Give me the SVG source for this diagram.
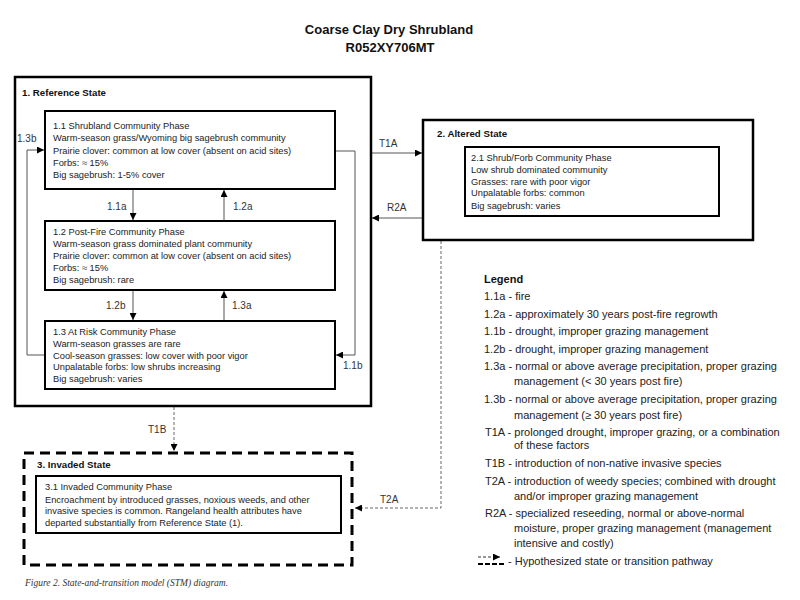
<svg xmlns="http://www.w3.org/2000/svg" width="800" height="600" viewBox="0 0 800 600">
<style>
text{font-family:"Liberation Sans",Arial,sans-serif;fill:#111}
.title{font-size:13px;font-weight:bold;text-anchor:middle}
.state{font-size:9.7px;font-weight:bold}
.body{font-size:9.3px;fill:#222}
.lbl{font-size:10px;fill:#333}
.leg{font-size:11px;fill:#222}
.legh{font-size:11px;font-weight:bold}
.cap{font-family:"Liberation Serif","Times New Roman",serif;font-style:italic;font-size:9.5px;fill:#333}
.sbox{fill:none;stroke:#000;stroke-width:2.5}
.pbox{fill:#fff;stroke:#000;stroke-width:2}
.dbox{fill:none;stroke:#000;stroke-width:3;stroke-dasharray:10,6}
.con{fill:none;stroke:#555;stroke-width:1}
.dash{fill:none;stroke:#666;stroke-width:1;stroke-dasharray:3,2}
</style>
<defs>
<marker id="ah" viewBox="0 0 10 10" refX="10" refY="5" markerWidth="7" markerHeight="7" markerUnits="userSpaceOnUse" orient="auto">
<path d="M0,0 L10,5 L0,10 z" fill="#000"/>
</marker>
</defs>
<rect width="800" height="600" fill="#fff"/>
<g id="title">
<text class="title" x="389" y="34">Coarse Clay Dry Shrubland</text>
<text class="title" x="390" y="52">R052XY706MT</text>
</g>
<g id="connectors">
<line class="con" x1="133" y1="189" x2="133" y2="220" marker-end="url(#ah)"/>
<line class="con" x1="224" y1="221" x2="224" y2="190" marker-end="url(#ah)"/>
<line class="con" x1="133" y1="290" x2="133" y2="320" marker-end="url(#ah)"/>
<line class="con" x1="224" y1="321" x2="224" y2="291" marker-end="url(#ah)"/>
<polyline class="con" points="45,355 27,355 27,150 44,150" marker-end="url(#ah)"/>
<polyline class="con" points="335,151 355,151 355,355 336,355" marker-end="url(#ah)"/>
<line class="con" x1="372" y1="153" x2="422" y2="153" marker-end="url(#ah)"/>
<line class="con" x1="423" y1="218" x2="372" y2="218" marker-end="url(#ah)"/>
<line class="dash" x1="174" y1="407" x2="174" y2="451" marker-end="url(#ah)"/>
<polyline class="dash" points="441,241 441,508 355,508" marker-end="url(#ah)"/>
<text class="lbl" x="107" y="209.5">1.1a</text>
<text class="lbl" x="233" y="209.5">1.2a</text>
<text class="lbl" x="106" y="308.5">1.2b</text>
<text class="lbl" x="232" y="308.5">1.3a</text>
<text class="lbl" x="17" y="141.5">1.3b</text>
<text class="lbl" x="343" y="368.5">1.1b</text>
<text class="lbl" x="379" y="146.5">T1A</text>
<text class="lbl" x="387" y="210.5">R2A</text>
<text class="lbl" x="148" y="432.5">T1B</text>
<text class="lbl" x="380" y="502.5">T2A</text>
</g>
<g id="state1">
<rect class="sbox" x="15" y="77" width="356" height="329"/>
<text class="state" x="22" y="95.5">1. Reference State</text>
</g>
<g id="phase11">
<rect class="pbox" x="45" y="111" width="290" height="78"/>
<text class="body" x="53" y="128.5">1.1 Shrubland Community Phase</text>
<text class="body" x="53" y="141">Warm-season grass/Wyoming big sagebrush community</text>
<text class="body" x="53" y="153.5">Prairie clover: common at low cover (absent on acid sites)</text>
<text class="body" x="53" y="166">Forbs: ≈ 15%</text>
<text class="body" x="53" y="178">Big sagebrush: 1-5% cover</text>
</g>
<g id="phase12">
<rect class="pbox" x="45" y="221" width="290" height="69"/>
<text class="body" x="53" y="234.5">1.2 Post-Fire Community Phase</text>
<text class="body" x="53" y="246.5">Warm-season grass dominated plant community</text>
<text class="body" x="53" y="258.5">Prairie clover: common at low cover (absent on acid sites)</text>
<text class="body" x="53" y="270.5">Forbs: ≈ 15%</text>
<text class="body" x="53" y="282.5">Big sagebrush: rare</text>
</g>
<g id="phase13">
<rect class="pbox" x="45" y="321" width="290" height="68"/>
<text class="body" x="53" y="334.5">1.3 At Risk Community Phase</text>
<text class="body" x="53" y="346.5">Warm-season grasses are rare</text>
<text class="body" x="53" y="358.5">Cool-season grasses: low cover with poor vigor</text>
<text class="body" x="53" y="369.5">Unpalatable forbs: low shrubs increasing</text>
<text class="body" x="53" y="382">Big sagebrush: varies</text>
</g>
<g id="state2">
<rect class="sbox" x="423" y="120" width="330" height="120"/>
<text class="state" x="437" y="136.5">2. Altered State</text>
</g>
<g id="phase21">
<rect class="pbox" x="465" y="147" width="254" height="69"/>
<text class="body" x="471" y="160.5">2.1 Shrub/Forb Community Phase</text>
<text class="body" x="471" y="173">Low shrub dominated community</text>
<text class="body" x="471" y="184.5">Grasses: rare with poor vigor</text>
<text class="body" x="471" y="196">Unpalatable forbs: common</text>
<text class="body" x="471" y="208.5">Big sagebrush: varies</text>
</g>
<g id="state3">
<rect class="dbox" x="24" y="453" width="328" height="112"/>
<text class="state" x="37" y="467.5">3. Invaded  State</text>
</g>
<g id="phase31">
<rect class="pbox" x="36" y="476" width="305" height="57"/>
<text class="body" x="45" y="489.5">3.1 Invaded Community Phase</text>
<text class="body" x="45" y="502.5">Encroachment by introduced grasses, noxious weeds, and other</text>
<text class="body" x="45" y="513.5">invasive species is common. Rangeland health attributes have</text>
<text class="body" x="45" y="525.5">departed substantially from Reference State (1).</text>
</g>
<g id="legend">
<text class="legh" x="484" y="283">Legend</text>
<text class="leg" x="484" y="300">1.1a - fire</text>
<text class="leg" x="484" y="317.5">1.2a - approximately 30 years post-fire regrowth</text>
<text class="leg" x="484" y="335">1.1b - drought, improper grazing management</text>
<text class="leg" x="484" y="353">1.2b - drought, improper grazing management</text>
<text class="leg" x="484" y="370">1.3a - normal or above average precipitation, proper grazing</text>
<text class="leg" x="514" y="385">management (&lt; 30 years post fire)</text>
<text class="leg" x="484" y="403">1.3b - normal or above average precipitation, proper grazing</text>
<text class="leg" x="514" y="418.5">management (≥ 30 years post fire)</text>
<text class="leg" x="485" y="436">T1A - prolonged drought, improper grazing, or a combination</text>
<text class="leg" x="514" y="449">of these factors</text>
<text class="leg" x="485" y="467">T1B - introduction of non-native invasive species</text>
<text class="leg" x="485" y="485">T2A - introduction of weedy species; combined with drought</text>
<text class="leg" x="514" y="500">and/or improper grazing management</text>
<text class="leg" x="485" y="517">R2A - specialized reseeding, normal or above-normal</text>
<text class="leg" x="514" y="532">moisture, proper grazing management (management</text>
<text class="leg" x="514" y="547">intensive and costly)</text>
<line x1="478" y1="557" x2="500" y2="557" stroke="#333" stroke-width="1" stroke-dasharray="3,2" marker-end="url(#ah)"/>
<line x1="478" y1="564" x2="505" y2="564" stroke="#000" stroke-width="2" stroke-dasharray="5,2"/>
<text class="leg" x="508" y="565">- Hypothesized state or transition pathway</text>
</g>
<text class="cap" x="25" y="586">Figure 2. State-and-transition model (STM) diagram.</text>
</svg>
